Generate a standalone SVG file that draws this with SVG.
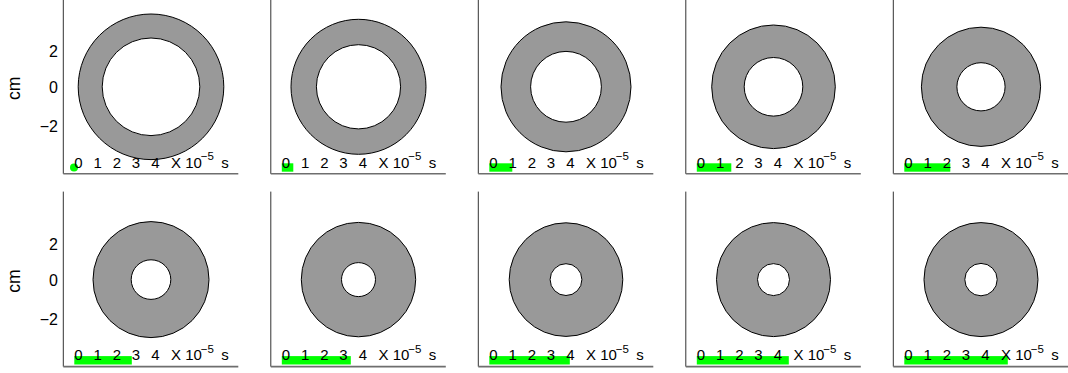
<svg xmlns="http://www.w3.org/2000/svg" width="1068" height="373" viewBox="0 0 1068 373">
<style>
text{font-family:"Liberation Sans",Arial,sans-serif;fill:#000}
.ax{stroke:#333;stroke-width:1;fill:none}
.bx{stroke:#6e6e6e;stroke-width:1.6;fill:none}
.outer{fill:#999999;stroke:#000;stroke-width:1}
.inner{fill:#fff;stroke:#000;stroke-width:1}
.bar{fill:#00ff00}
.t{font-size:15px}
.d{font-size:15px;text-anchor:middle}
.sup{font-size:11.5px}
.yt{font-size:16px;text-anchor:end}
.yl{font-size:17.5px;text-anchor:middle}
</style>
<rect width="1068" height="373" fill="#fff"/>

<g id="panel1" transform="translate(63.3,173.8)">
<line class="ax" x1="0" y1="-176" x2="0" y2="0"/><line class="bx" x1="0" y1="0" x2="175" y2="0"/>
<circle class="outer" cx="87.7" cy="-87" r="72.8"/><circle class="inner" cx="87.7" cy="-87" r="48.8"/>
<circle cx="10.7" cy="-6.3" r="4" fill="#00ff00"/>
<text class="d" x="15" y="-6.3">0</text><text class="d" x="34.3" y="-6.3">1</text><text class="d" x="53.7" y="-6.3">2</text><text class="d" x="72.7" y="-6.3">3</text><text class="d" x="92.2" y="-6.3">4</text>
<text class="t" x="107.8" y="-6.3">X 10</text><text class="sup" x="137.5" y="-14">−5</text><text class="t" x="158" y="-6.3">s</text>
<text class="yt" x="-5.3" y="-116.5">2</text><text class="yt" x="-5.3" y="-80.5">0</text><text class="yt" x="-5.3" y="-41.6">−2</text>
<text class="yl" transform="translate(-43.3,-85.5) rotate(-90)">cm</text>
</g>

<g id="panel2" transform="translate(270.8,173.8)">
<line class="ax" x1="0" y1="-176" x2="0" y2="0"/><line class="bx" x1="0" y1="0" x2="175" y2="0"/>
<circle class="outer" cx="87.7" cy="-87" r="67.5"/><circle class="inner" cx="87.7" cy="-87" r="42.1"/>
<rect class="bar" x="11" y="-10.5" width="11.5" height="8.4"/>
<text class="d" x="15" y="-6.3">0</text><text class="d" x="34.3" y="-6.3">1</text><text class="d" x="53.7" y="-6.3">2</text><text class="d" x="72.7" y="-6.3">3</text><text class="d" x="92.2" y="-6.3">4</text>
<text class="t" x="107.8" y="-6.3">X 10</text><text class="sup" x="137.5" y="-14">−5</text><text class="t" x="158" y="-6.3">s</text>
</g>

<g id="panel3" transform="translate(478.3,173.8)">
<line class="ax" x1="0" y1="-176" x2="0" y2="0"/><line class="bx" x1="0" y1="0" x2="175" y2="0"/>
<circle class="outer" cx="87.7" cy="-87" r="65"/><circle class="inner" cx="87.7" cy="-87" r="35.4"/>
<rect class="bar" x="11" y="-10.5" width="23" height="8.4"/>
<text class="d" x="15" y="-6.3">0</text><text class="d" x="34.3" y="-6.3">1</text><text class="d" x="53.7" y="-6.3">2</text><text class="d" x="72.7" y="-6.3">3</text><text class="d" x="92.2" y="-6.3">4</text>
<text class="t" x="107.8" y="-6.3">X 10</text><text class="sup" x="137.5" y="-14">−5</text><text class="t" x="158" y="-6.3">s</text>
</g>

<g id="panel4" transform="translate(685.8,173.8)">
<line class="ax" x1="0" y1="-176" x2="0" y2="0"/><line class="bx" x1="0" y1="0" x2="175" y2="0"/>
<circle class="outer" cx="87.7" cy="-87" r="61.8"/><circle class="inner" cx="87.7" cy="-87" r="29.3"/>
<rect class="bar" x="11" y="-10.5" width="34.5" height="8.4"/>
<text class="d" x="15" y="-6.3">0</text><text class="d" x="34.3" y="-6.3">1</text><text class="d" x="53.7" y="-6.3">2</text><text class="d" x="72.7" y="-6.3">3</text><text class="d" x="92.2" y="-6.3">4</text>
<text class="t" x="107.8" y="-6.3">X 10</text><text class="sup" x="137.5" y="-14">−5</text><text class="t" x="158" y="-6.3">s</text>
</g>

<g id="panel5" transform="translate(893.3,173.8)">
<line class="ax" x1="0" y1="-176" x2="0" y2="0"/><line class="bx" x1="0" y1="0" x2="175" y2="0"/>
<circle class="outer" cx="87.7" cy="-87" r="59.6"/><circle class="inner" cx="87.7" cy="-87" r="24.1"/>
<rect class="bar" x="11" y="-10.5" width="46" height="8.4"/>
<text class="d" x="15" y="-6.3">0</text><text class="d" x="34.3" y="-6.3">1</text><text class="d" x="53.7" y="-6.3">2</text><text class="d" x="72.7" y="-6.3">3</text><text class="d" x="92.2" y="-6.3">4</text>
<text class="t" x="107.8" y="-6.3">X 10</text><text class="sup" x="137.5" y="-14">−5</text><text class="t" x="158" y="-6.3">s</text>
</g>

<g id="panel6" transform="translate(63.3,366.6)">
<line class="ax" x1="0" y1="-175" x2="0" y2="0"/><line class="bx" x1="0" y1="0" x2="175" y2="0"/>
<circle class="outer" cx="87.7" cy="-87" r="58"/><circle class="inner" cx="87.7" cy="-87" r="19.8"/>
<rect class="bar" x="11" y="-10.5" width="57.5" height="8.4"/>
<text class="d" x="15" y="-6.3">0</text><text class="d" x="34.3" y="-6.3">1</text><text class="d" x="53.7" y="-6.3">2</text><text class="d" x="72.7" y="-6.3">3</text><text class="d" x="92.2" y="-6.3">4</text>
<text class="t" x="107.8" y="-6.3">X 10</text><text class="sup" x="137.5" y="-14">−5</text><text class="t" x="158" y="-6.3">s</text>
<text class="yt" x="-5.3" y="-116.5">2</text><text class="yt" x="-5.3" y="-80.5">0</text><text class="yt" x="-5.3" y="-41.6">−2</text>
<text class="yl" transform="translate(-43.3,-85.5) rotate(-90)">cm</text>
</g>

<g id="panel7" transform="translate(270.8,366.6)">
<line class="ax" x1="0" y1="-175" x2="0" y2="0"/><line class="bx" x1="0" y1="0" x2="175" y2="0"/>
<circle class="outer" cx="87.7" cy="-87" r="57.2"/><circle class="inner" cx="87.7" cy="-87" r="17"/>
<rect class="bar" x="11" y="-10.5" width="69" height="8.4"/>
<text class="d" x="15" y="-6.3">0</text><text class="d" x="34.3" y="-6.3">1</text><text class="d" x="53.7" y="-6.3">2</text><text class="d" x="72.7" y="-6.3">3</text><text class="d" x="92.2" y="-6.3">4</text>
<text class="t" x="107.8" y="-6.3">X 10</text><text class="sup" x="137.5" y="-14">−5</text><text class="t" x="158" y="-6.3">s</text>
</g>

<g id="panel8" transform="translate(478.3,366.6)">
<line class="ax" x1="0" y1="-175" x2="0" y2="0"/><line class="bx" x1="0" y1="0" x2="175" y2="0"/>
<circle class="outer" cx="87.7" cy="-87" r="56.8"/><circle class="inner" cx="87.7" cy="-87" r="15.9"/>
<rect class="bar" x="11" y="-10.5" width="80.5" height="8.4"/>
<text class="d" x="15" y="-6.3">0</text><text class="d" x="34.3" y="-6.3">1</text><text class="d" x="53.7" y="-6.3">2</text><text class="d" x="72.7" y="-6.3">3</text><text class="d" x="92.2" y="-6.3">4</text>
<text class="t" x="107.8" y="-6.3">X 10</text><text class="sup" x="137.5" y="-14">−5</text><text class="t" x="158" y="-6.3">s</text>
</g>

<g id="panel9" transform="translate(685.8,366.6)">
<line class="ax" x1="0" y1="-175" x2="0" y2="0"/><line class="bx" x1="0" y1="0" x2="175" y2="0"/>
<circle class="outer" cx="87.7" cy="-87" r="57"/><circle class="inner" cx="87.7" cy="-87" r="16"/>
<rect class="bar" x="11" y="-10.5" width="92" height="8.4"/>
<text class="d" x="15" y="-6.3">0</text><text class="d" x="34.3" y="-6.3">1</text><text class="d" x="53.7" y="-6.3">2</text><text class="d" x="72.7" y="-6.3">3</text><text class="d" x="92.2" y="-6.3">4</text>
<text class="t" x="107.8" y="-6.3">X 10</text><text class="sup" x="137.5" y="-14">−5</text><text class="t" x="158" y="-6.3">s</text>
</g>

<g id="panel10" transform="translate(893.3,366.6)">
<line class="ax" x1="0" y1="-175" x2="0" y2="0"/><line class="bx" x1="0" y1="0" x2="175" y2="0"/>
<circle class="outer" cx="87.7" cy="-87" r="57"/><circle class="inner" cx="87.7" cy="-87" r="16.2"/>
<rect class="bar" x="11" y="-10.5" width="103.5" height="8.4"/>
<text class="d" x="15" y="-6.3">0</text><text class="d" x="34.3" y="-6.3">1</text><text class="d" x="53.7" y="-6.3">2</text><text class="d" x="72.7" y="-6.3">3</text><text class="d" x="92.2" y="-6.3">4</text>
<text class="t" x="107.8" y="-6.3">X 10</text><text class="sup" x="137.5" y="-14">−5</text><text class="t" x="158" y="-6.3">s</text>
</g>
</svg>
